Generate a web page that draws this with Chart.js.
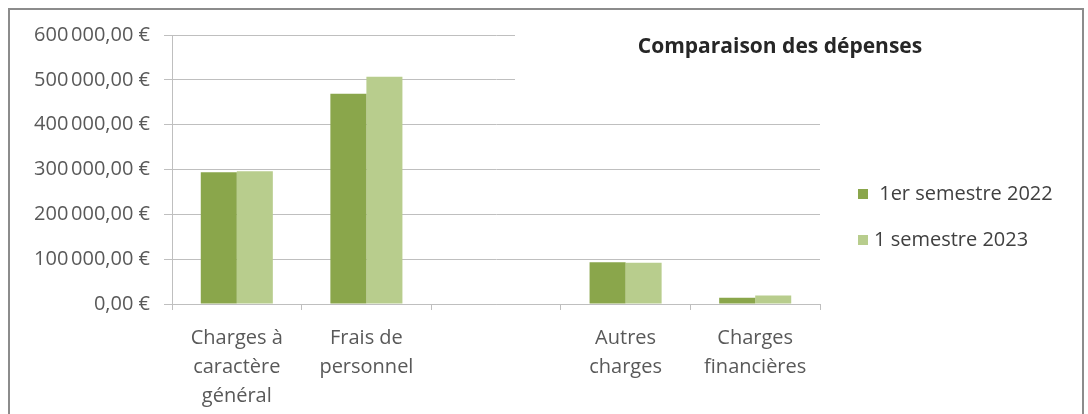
<!DOCTYPE html>
<html lang="fr">
<head>
<meta charset="utf-8">
<title>Comparaison des dépenses</title>
<script src="https://cdn.jsdelivr.net/npm/chart.js@4/dist/chart.umd.min.js"></script>
<style>
  html, body { margin: 0; padding: 0; background: #fff; }
  #cadre {
    position: absolute; left: 8px; top: 8px; width: 1076px; height: 420px;
    border: 2px solid #8c8c8c; box-sizing: border-box;
  }
  #wrap { position: absolute; left: 0; top: 0; width: 1088px; height: 414px; }
</style>
</head>
<body>
<div id="cadre"></div>
<div id="wrap"><canvas id="chart" width="1088" height="414"></canvas></div>
<script>
// donnees du graphique
const categories = [
    ["Charges à", "caractère", "général"],
    ["Frais de", "personnel"],
    "",
    ["Autres", "charges"],
    ["Charges", "financières"]
];
const series_labels = [" 1er semestre 2022", "1 semestre 2023"];
const semestre_2022 = [294000, 469000, null, 93000, 14000];
const semestre_2023 = [296000, 507000, null, 92000, 19000];
const y_min = 0;
const y_max = 600000;
const y_step = 100000;
const titre = "Comparaison des dépenses";

const couleurs = ["#8aa64b", "#b8cd8d"];
const police = "'Open Sans', Lato, sans-serif";

const euro = new Intl.NumberFormat("fr-FR", { style: "currency", currency: "EUR", minimumFractionDigits: 2 });

// titre avec fond blanc (cache le haut des lignes de grille comme dans Excel)
const titre_plugin = {
    id: "titre_plugin",
    afterDraw(chart) {
        const ctx = chart.ctx;
        ctx.save();
        ctx.fillStyle = "#fff";
        ctx.fillRect(515, 22, 530, 64);
        ctx.fillStyle = "#262626";
        ctx.font = "bold 21px " + police;
        ctx.textAlign = "center";
        ctx.textBaseline = "middle";
        ctx.fillText(titre, 780, 47);
        ctx.restore();
    }
};

// legende a droite
const legende_plugin = {
    id: "legende_plugin",
    afterDraw(chart) {
        const ctx = chart.ctx;
        ctx.save();
        ctx.font = "20px " + police;
        ctx.textBaseline = "middle";
        chart.data.datasets.forEach((ds, i) => {
            const y = 194 + i * 46;
            ctx.fillStyle = ds.backgroundColor;
            ctx.fillRect(858, y - 5, 10, 10);
            ctx.fillStyle = "#404040";
            ctx.fillText(ds.label, 874, y);
        });
        ctx.restore();
    }
};

function print_bar_chart() {
    let bar_chart = new Chart(document.querySelector("#chart"), {
        type: "bar",
        data: {
            labels: categories,
            datasets: [{
                label: series_labels[0],
                data: semestre_2022,
                backgroundColor: couleurs[0]
            }, {
                label: series_labels[1],
                data: semestre_2023,
                backgroundColor: couleurs[1]
            }]
        },
        options: {
            responsive: false,
            animation: false,
            events: [],
            layout: { padding: { left: 0, right: 268, top: 35, bottom: 0 } },
            datasets: { bar: { categoryPercentage: 0.556, barPercentage: 1.0 } },
            plugins: {
                legend: { display: false },
                title: { display: false },
                tooltip: { enabled: false }
            },
            scales: {
                x: {
                    grid: {
                        offset: true,
                        drawOnChartArea: false,
                        tickLength: 6,
                        color: "#bfbfbf"
                    },
                    border: { color: "#bfbfbf" },
                    ticks: {
                        color: "#595959",
                        font: { family: police, size: 20, lineHeight: 1.45 },
                        padding: 14,
                        maxRotation: 0,
                        autoSkip: false
                    },
                    afterFit(scale) { scale.height = 110; }
                },
                y: {
                    min: y_min,
                    max: y_max,
                    grid: { color: "#bfbfbf", tickLength: 8 },
                    border: { color: "#bfbfbf" },
                    ticks: {
                        stepSize: y_step,
                        color: "#595959",
                        font: { family: police, size: 20 },
                        padding: 14,
                        callback: (v) => euro.format(v)
                    },
                    afterFit(scale) { scale.width = 172; }
                }
            }
        },
        plugins: [titre_plugin, legende_plugin]
    });
    return bar_chart;
}

print_bar_chart();
</script>
</body>
</html>
